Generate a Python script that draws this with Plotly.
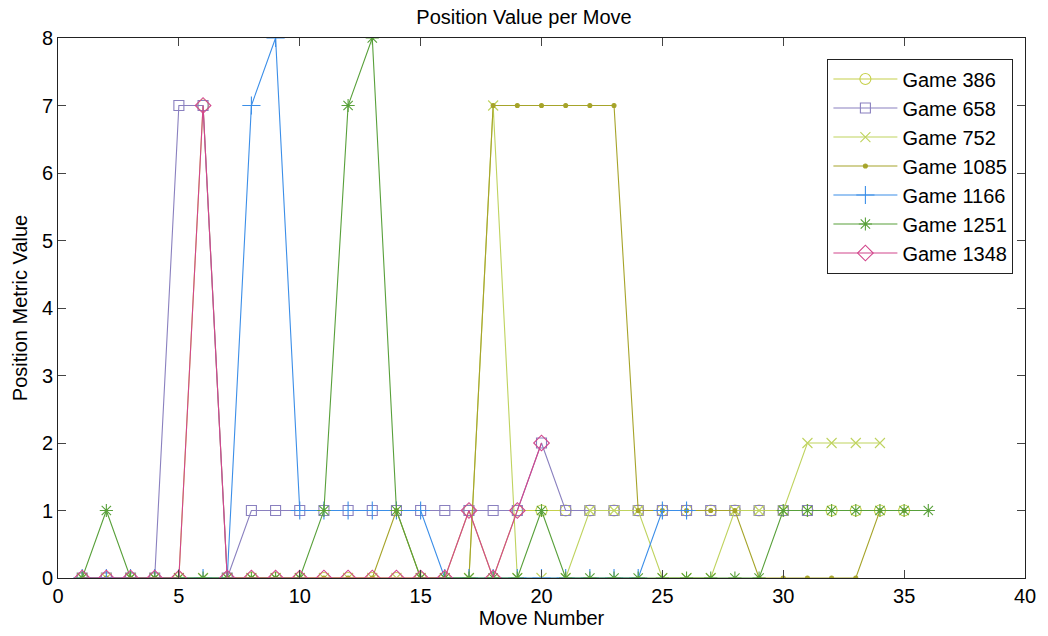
import plotly.graph_objects as go

# ---- data ----
names = ["Game 386", "Game 658", "Game 752", "Game 1085", "Game 1166", "Game 1251", "Game 1348"]

game_386 = [0, 0, 0, 0, 0, 7, 0, 0, 0, 0, 0, 0, 0, 0, 0, 0, 1, 0, 1, 1,
            1, 1, 1, 1, 1, 1, 1, 1, 1, 1, 1, 1, 1, 1, 1]
game_658 = [0, 0, 0, 0, 7, 7, 0, 1, 1, 1, 1, 1, 1, 1, 1, 1, 1, 1, 1, 2,
            1, 1, 1, 1, 1, 1, 1, 1, 1, 1, 1]
game_752 = [0, 0, 0, 0, 0, 0, 0, 0, 0, 0, 0, 0, 0, 0, 0, 0, 0, 7, 0, 0,
            0, 1, 1, 1, 0, 0, 0, 1, 1, 1, 2, 2, 2, 2]
game_1085 = [0, 0, 0, 0, 0, 0, 0, 0, 0, 0, 0, 0, 0, 1, 0, 0, 0, 7, 7, 7,
             7, 7, 7, 1, 1, 1, 1, 1, 0, 0, 0, 0, 0, 1, 1]
game_1166 = [0, 0, 0, 0, 0, 0, 0, 7, 8, 1, 1, 1, 1, 1, 1, 0, 0, 0, 0, 0,
             0, 0, 0, 0, 1, 1]
game_1251 = [0, 1, 0, 0, 0, 0, 0, 0, 0, 0, 1, 7, 8, 1, 0, 0, 0, 0, 0, 1,
             0, 0, 0, 0, 0, 0, 0, 0, 0, 1, 1, 1, 1, 1, 1, 1]
game_1348 = [0, 0, 0, 0, 0, 7, 0, 0, 0, 0, 0, 0, 0, 0, 0, 0, 1, 0, 1, 2]

series = [game_386, game_658, game_752, game_1085, game_1166, game_1251, game_1348]

x_ticks = [0, 5, 10, 15, 20, 25, 30, 35, 40]
y_ticks = [0, 1, 2, 3, 4, 5, 6, 7, 8]

# ---- styles ----
colors = ["#c6d04a", "#8a80bf", "#bfd35e", "#a6a42a", "#3b8ee8", "#58a03a", "#d2468c"]
symbols = ["circle-open", "square-open", "x-thin-open", "circle", "cross-thin-open",
           "asterisk-open", "diamond-open"]
sizes = [11, 10, 10, 4, 13, 11, 12]

FONT = "Liberation Sans, Arial, Helvetica, sans-serif"
FS = 20

fig = go.Figure()
for name, ys, c, s, sz in zip(names, series, colors, symbols, sizes):
    xs = list(range(1, len(ys) + 1))
    fig.add_trace(go.Scatter(
        x=xs, y=ys, name=name, mode="lines+markers",
        line=dict(color=c, width=1.1),
        marker=dict(symbol=s, size=sz, color=c, line=dict(color=c, width=1.1)),
    ))

axis_common = dict(
    showgrid=False, zeroline=False, showline=True, linecolor="#222222", linewidth=1,
    mirror="allticks", ticks="inside", ticklen=8, tickcolor="#444444", tickwidth=1,
    tickfont=dict(family=FONT, size=FS, color="black"),
)

fig.update_xaxes(range=[0, 40], tickvals=x_ticks, ticktext=[str(v) for v in x_ticks],
                 title=dict(text="Move Number", font=dict(family=FONT, size=FS, color="black"),
                            standoff=3),
                 **axis_common)
fig.update_yaxes(range=[0, 8], tickvals=y_ticks, ticktext=[str(v) for v in y_ticks],
                 title=dict(text="Position Metric Value", font=dict(family=FONT, size=FS, color="black"),
                            standoff=8),
                 **axis_common)

fig.update_layout(
    width=1048, height=636,
    margin=dict(l=58, r=23, t=38, b=58, autoexpand=False),
    paper_bgcolor="white", plot_bgcolor="white",
    title=dict(text="Position Value per Move", x=0.5, xanchor="center",
               y=1 - 17 / 636, yanchor="middle",
               font=dict(family=FONT, size=FS, color="black")),
    legend=dict(x=0.988, y=0.962, xanchor="right", yanchor="top",
                bgcolor="white", bordercolor="#222222", borderwidth=1,
                font=dict(family=FONT, size=FS, color="black"),
                itemwidth=64),
    showlegend=True,
)

fig.write_html("out.html", config={"displayModeBar": False},
               post_script="document.body.style.margin='0';document.body.style.padding='0';")
